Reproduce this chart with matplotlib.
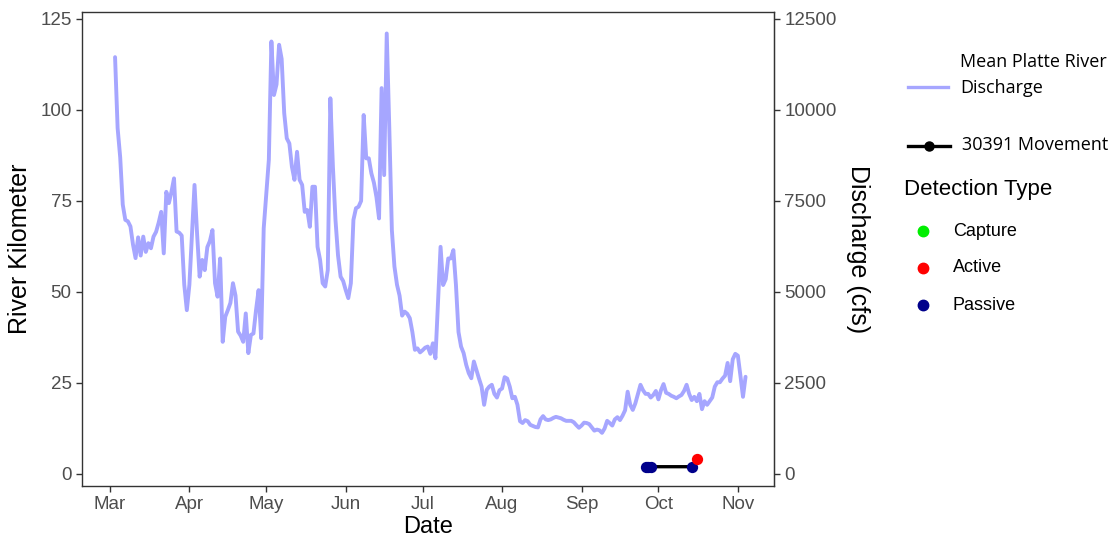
import numpy as np
import pandas as pd
import matplotlib
matplotlib.use("Agg")
import matplotlib.pyplot as plt
import matplotlib.dates as mdates
from matplotlib.lines import Line2D

# Daily mean Platte River discharge (cfs), starting 2017-03-03
discharge_start = "2017-03-03"
discharge_cfs = [
    11450, 9500, 8700, 7400, 6980, 6940, 6800, 6300, 5930, 6500,
    6000, 6520, 6100, 6340, 6200, 6520, 6650, 6900, 7200, 6060,
    7750, 7440, 7750, 8120, 6660, 6630, 6550, 5200, 4500, 5200,
    6600, 7940, 6600, 5420, 5880, 5600, 6230, 6400, 6700, 5240,
    4870, 5920, 3630, 4320, 4500, 4700, 5240, 4900, 3910, 3800,
    3630, 4410, 3320, 3820, 3860, 4500, 5050, 3730, 6750, 7710,
    8630,
    11880, 10410, 10700, 11790, 11400, 9910, 9220, 9080, 8440, 8080,
    8850, 8080, 7940, 7200, 7250, 6790, 7890, 7890, 6240, 5880,
    5240, 5150, 5600, 10320, 8440, 6980, 6000, 5420, 5300, 5050,
    4830, 5240, 6980,
    7300, 7340, 7500, 9860, 8670, 8670, 8260, 8000, 7600, 7020,
    10600, 8210, 12100, 9500, 6700, 5700, 5200, 4900, 4350, 4460,
    4400, 4280, 3900, 3410, 3450, 3340, 3400, 3470, 3500, 3300,
    3590, 3180, 4700, 6240, 5190, 5350, 5920, 5920, 6150, 5200,
    3900, 3500, 3320, 3000, 2770,
    2630, 3090, 2850, 2620, 2400, 1900, 2310, 2400, 2450, 2200,
    2100, 2300, 2350, 2660, 2620, 2400, 2080, 2120, 1900, 1450,
    1400, 1480, 1450, 1350, 1320, 1290, 1280, 1500, 1590, 1500,
    1480, 1500, 1540, 1570, 1550, 1530, 1490, 1460, 1460, 1460,
    1420, 1340, 1270, 1330, 1410, 1400, 1370, 1280, 1190, 1220,
    1200, 1130, 1250, 1460, 1400, 1330, 1500, 1560, 1480, 1600,
    1750, 2260, 1900, 1760, 1940, 2200, 2450, 2300, 2200, 2200,
    2100, 2170, 2280, 2050, 2300, 2470, 2230, 2200, 2150, 2120,
    2080, 2130, 2170, 2280, 2450, 2200, 2030, 2120, 2000, 2200,
    1780, 2000, 1900, 2000, 2100, 2400, 2520, 2520, 2620, 2700,
    3050, 2550, 3150, 3300, 3250, 2700, 2120, 2670,
]

# Fish 30391 detections (river kilometer)
capture_dates = []
capture_rkm = []
active_dates = ["2017-10-16"]
active_rkm = [4.0]
passive_dates = ["2017-09-26", "2017-09-27", "2017-09-28", "2017-10-14"]
passive_rkm = [2.0, 2.0, 2.0, 2.0]

# Movement path through all detections in time order
movement_dates = passive_dates + active_dates
movement_rkm = passive_rkm + active_rkm

month_ticks = ["2017-03-01", "2017-04-01", "2017-05-01", "2017-06-01",
               "2017-07-01", "2017-08-01", "2017-09-01", "2017-10-01",
               "2017-11-01"]
rkm_ticks = [0, 25, 50, 75, 100, 125]
cfs_ticks = [0, 2500, 5000, 7500, 10000, 12500]

LINE_BLUE = "#a6a6ff"
CAPTURE_C = "#00ee00"
ACTIVE_C = "#ff0000"
PASSIVE_C = "#00008b"
FRAME_C = "#333333"
TICKLAB_C = "#4d4d4d"

plt.rcParams["font.family"] = ["Liberation Sans", "DejaVu Sans"]

W, H = 1118, 546
fig = plt.figure(figsize=(W / 100, H / 100), dpi=100)


def fx(px):
    return px / W


def fy(py):
    return 1 - py / H


ax = fig.add_axes([fx(82), fy(486), (774 - 82) / W, (486 - 12) / H])

dates = pd.date_range(discharge_start, periods=len(discharge_cfs), freq="D")
ax.plot(dates, np.asarray(discharge_cfs) / 100.0, color=LINE_BLUE, lw=2.8,
        solid_joinstyle="round", solid_capstyle="round", zorder=2)

mv_d = pd.to_datetime(movement_dates)
ax.plot(mv_d, movement_rkm, color="black", lw=2.4, zorder=3)
if capture_dates:
    ax.scatter(pd.to_datetime(capture_dates), capture_rkm, s=64, color=CAPTURE_C,
               zorder=4, linewidths=0)
ax.scatter(pd.to_datetime(passive_dates), passive_rkm, s=66, color=PASSIVE_C,
           zorder=4, linewidths=0)
ax.scatter(pd.to_datetime(active_dates), active_rkm, s=66, color=ACTIVE_C,
           zorder=5, linewidths=0)

x0 = pd.Timestamp("2017-03-01") - pd.Timedelta(days=10.9)
x1 = pd.Timestamp("2017-03-01") + pd.Timedelta(days=259.1)
ax.set_xlim(x0, x1)
ax.set_ylim(-3.3, 126.9)

ax.set_xticks(pd.to_datetime(month_ticks))
ax.xaxis.set_major_formatter(mdates.DateFormatter("%b"))
ax.set_yticks(rkm_ticks)

for s in ax.spines.values():
    s.set_color(FRAME_C)
    s.set_linewidth(1.0)
ax.tick_params(axis="both", direction="out", length=4.5, width=1.0,
               color=FRAME_C, labelcolor=TICKLAB_C, labelsize=13.5, pad=3)

sec = ax.secondary_yaxis("right", functions=(lambda v: v * 100, lambda v: v / 100))
sec.set_yticks(cfs_ticks)
sec.spines["right"].set_color(FRAME_C)
sec.tick_params(direction="out", length=4.5, width=1.0, color=FRAME_C,
                labelcolor=TICKLAB_C, labelsize=13.5, pad=3)

ax.set_xlabel("Date", fontsize=17, color="black", labelpad=2)
ax.set_ylabel("River Kilometer", fontsize=18, color="black", labelpad=6)
sec.set_ylabel("Discharge (cfs)", fontsize=18, color="black", rotation=270,
               labelpad=24)

# Legend, drawn in figure pixel coordinates
leg_font = ["Open Sans", "DejaVu Sans"]
fig.add_artist(Line2D([fx(908), fx(948)], [fy(87), fy(87)], color=LINE_BLUE,
                      lw=2.4, transform=fig.transFigure))
fig.text(fx(960), fy(62), "Mean Platte River", family=leg_font, fontsize=13,
         va="center", ha="left")
fig.text(fx(960), fy(88), "Discharge", family=leg_font, fontsize=13,
         va="center", ha="left")

fig.add_artist(Line2D([fx(908), fx(950)], [fy(146), fy(146)], color="black",
                      lw=2.4, transform=fig.transFigure))
fig.add_artist(Line2D([fx(929)], [fy(146)], color="black", marker="o",
                      markersize=6.5, lw=0, transform=fig.transFigure))
fig.text(fx(962), fy(145), "30391 Movement", family=leg_font, fontsize=13,
         va="center", ha="left")

fig.text(fx(904), fy(189), "Detection Type", fontsize=16, va="center", ha="left")
for label, col, yy in [("Capture", CAPTURE_C, 231), ("Active", ACTIVE_C, 268),
                       ("Passive", PASSIVE_C, 305)]:
    fig.add_artist(Line2D([fx(923)], [fy(yy)], color=col, marker="o",
                          markersize=7.5, lw=0, transform=fig.transFigure))
    fig.text(fx(953), fy(yy), label, fontsize=13, va="center", ha="left")

fig.savefig("out.png", dpi=100)
